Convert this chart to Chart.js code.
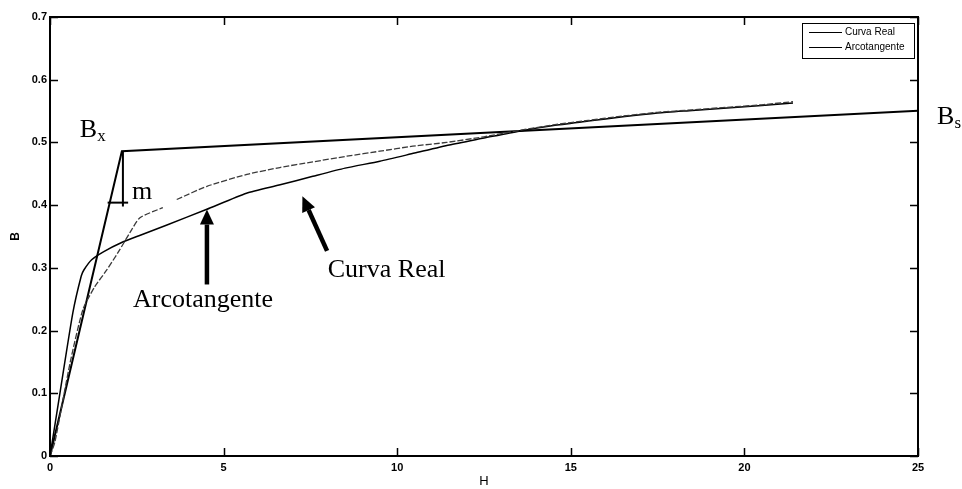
<!DOCTYPE html>
<html><head><meta charset="utf-8">
<script src="https://cdn.jsdelivr.net/npm/chart.js@4.4.0/dist/chart.umd.min.js"></script>
<style>html,body{margin:0;padding:0;background:#fff}#wrap{width:962px;height:489px;position:relative}</style>
</head><body><div id="wrap"><canvas id="c" width="962" height="489"></canvas></div>
<script>
// ---- data ----
const xTicks = [0, 5, 10, 15, 20, 25];
const yTicks = [0, 0.1, 0.2, 0.3, 0.4, 0.5, 0.6, 0.7];
const seriesNames = ['Curva Real', 'Arcotangente'];
const axisTitles = { x: 'H', y: 'B' };

// null = small gap visible in the measured curve
const realH = [0, 0.14, 0.58, 0.95, 1.29, 1.64, 2.01, 2.3, 2.59, 3.25, 3.45, 3.65, 4.52, 5.67, 6.62, 7.57, 8.55, 9.5, 10.45, 11.42, 12.5, 13.5, 14.5, 15.5, 16.5, 17.5, 18.5, 19.5, 20.5, 21.4];
const realB = [0, 0.022, 0.149, 0.234, 0.270, 0.297, 0.329, 0.356, 0.380, 0.396, null, 0.409, 0.430, 0.449, 0.460, 0.469, 0.478, 0.486, 0.494, 0.500, 0.509, 0.519, 0.528, 0.535, 0.542, 0.548, 0.552, 0.556, 0.560, 0.565];

const arcH = [0, 0.3, 0.66, 0.9, 0.98, 1.2, 1.55, 2.05, 2.6, 3.35, 4.5, 5.66, 6.6, 7.57, 8.5, 9.5, 10.5, 11.5, 12.5, 13.5, 14.5, 15.5, 16.5, 17.5, 18.5, 19.5, 20.5, 21.4];
const arcB = [0, 0.105, 0.229, 0.287, 0.297, 0.313, 0.326, 0.340, 0.352, 0.368, 0.393, 0.419, 0.432, 0.446, 0.459, 0.470, 0.483, 0.496, 0.507, 0.518, 0.527, 0.534, 0.541, 0.547, 0.551, 0.555, 0.559, 0.563];

const satH = [0, 2.07, 25];
const satB = [0, 0.486, 0.5505];
const mVertH = [2.1, 2.1];
const mVertB = [0.486, 0.398];
const mHorH = [1.66, 2.25];
const mHorB = [0.404, 0.404];

// text annotations (data coordinates)
const noteTexts = [
  { text: 'B', sub: 'x', h: 0.86, b: 0.508 },
  { text: 'B', sub: 's', h: 25.55, b: 0.529 },
  { text: 'm', sub: '', h: 2.36, b: 0.409 },
  { text: 'Arcotangente', sub: '', h: 2.39, b: 0.237 },
  { text: 'Curva Real', sub: '', h: 8.0, b: 0.285 }
];
const noteArrows = [
  { h0: 4.52, b0: 0.2735, h1: 4.52, b1: 0.393 },
  { h0: 7.98, b0: 0.327, h1: 7.27, b1: 0.414 }
];

const pts = (hs, bs) => hs.map((h, i) => ({ x: h, y: bs[i] }));

const tickFont = { family: "'Liberation Sans Narrow','Liberation Sans',Arial,sans-serif", size: 11, weight: 'bold' };

const boxPlugin = {
  id: 'boxPlugin',
  afterDraw(chart) {
    const ctx = chart.ctx, ca = chart.chartArea;
    const xs = chart.scales.x, ys = chart.scales.y;
    ctx.save();
    ctx.strokeStyle = '#000';
    ctx.lineWidth = 1.5;
    const tl = 8;
    ctx.beginPath();
    xTicks.forEach(v => {
      const px = Math.round(xs.getPixelForValue(v)) + 0.5;
      ctx.moveTo(px, ca.bottom); ctx.lineTo(px, ca.bottom - tl);
      ctx.moveTo(px, ca.top); ctx.lineTo(px, ca.top + tl);
    });
    yTicks.forEach(v => {
      const py = Math.round(ys.getPixelForValue(v)) + 0.5;
      ctx.moveTo(ca.left, py); ctx.lineTo(ca.left + tl, py);
      ctx.moveTo(ca.right, py); ctx.lineTo(ca.right - tl, py);
    });
    ctx.stroke();
    ctx.lineWidth = 2;
    ctx.strokeRect(ca.left, ca.top, ca.right - ca.left, ca.bottom - ca.top);

    // legend
    const bx = ca.right - 116, by = ca.top + 6, bw = 112, bh = 35;
    ctx.fillStyle = '#fff';
    ctx.fillRect(bx, by, bw, bh);
    ctx.lineWidth = 1;
    ctx.strokeRect(bx + 0.5, by + 0.5, bw, bh);
    ctx.font = "10px 'Liberation Sans', Arial, sans-serif";
    ctx.textBaseline = 'middle';
    ctx.fillStyle = '#000';
    seriesNames.forEach((name, i) => {
      const ly = by + 9.5 + i * 15;
      ctx.beginPath();
      ctx.moveTo(bx + 7, ly); ctx.lineTo(bx + 40, ly);
      ctx.stroke();
      ctx.fillText(name, bx + 43, ly);
    });
    ctx.restore();
  },
  afterDatasetsDraw(chart) {
    const ctx = chart.ctx;
    const xs = chart.scales.x, ys = chart.scales.y;
    ctx.save();
    ctx.fillStyle = '#000';
    ctx.strokeStyle = '#000';
    noteArrows.forEach(a => {
      const x0 = xs.getPixelForValue(a.h0), y0 = ys.getPixelForValue(a.b0);
      const x1 = xs.getPixelForValue(a.h1), y1 = ys.getPixelForValue(a.b1);
      const ang = Math.atan2(y1 - y0, x1 - x0);
      const hl = 15, hw = 7;
      const bxp = x1 - hl * Math.cos(ang), byp = y1 - hl * Math.sin(ang);
      ctx.lineWidth = 4.5;
      ctx.beginPath(); ctx.moveTo(x0, y0); ctx.lineTo(bxp, byp); ctx.stroke();
      ctx.beginPath();
      ctx.moveTo(x1, y1);
      ctx.lineTo(bxp + hw * Math.sin(ang), byp - hw * Math.cos(ang));
      ctx.lineTo(bxp - hw * Math.sin(ang), byp + hw * Math.cos(ang));
      ctx.closePath(); ctx.fill();
    });
    ctx.textBaseline = 'alphabetic';
    noteTexts.forEach(t => {
      const x = xs.getPixelForValue(t.h), y = ys.getPixelForValue(t.b);
      ctx.font = "26px 'Liberation Serif', 'Times New Roman', serif";
      ctx.fillText(t.text, x, y);
      if (t.sub) {
        const w = ctx.measureText(t.text).width;
        ctx.font = "17px 'Liberation Serif', 'Times New Roman', serif";
        ctx.fillText(t.sub, x + w, y + 4);
      }
    });
    ctx.restore();
  }
};

new Chart(document.getElementById('c'), {
  type: 'scatter',
  data: {
    datasets: [
      { label: seriesNames[0], data: pts(realH, realB), showLine: true, spanGaps: false, borderColor: '#3a3a3a', borderWidth: 1.3, borderDash: [6, 2], pointRadius: 0, tension: 0.2, fill: false },
      { label: seriesNames[1], data: pts(arcH, arcB), showLine: true, borderColor: '#000', borderWidth: 1.5, pointRadius: 0, tension: 0.2, fill: false },
      { label: '', data: pts(satH, satB), showLine: true, borderColor: '#000', borderWidth: 2, pointRadius: 0, fill: false },
      { label: '', data: pts(mVertH, mVertB), showLine: true, borderColor: '#000', borderWidth: 2, pointRadius: 0, fill: false },
      { label: '', data: pts(mHorH, mHorB), showLine: true, borderColor: '#000', borderWidth: 2, pointRadius: 0, fill: false }
    ]
  },
  options: {
    responsive: false,
    animation: false,
    devicePixelRatio: 1,
    layout: { padding: { top: 17, right: 44, left: 0, bottom: 0 } },
    plugins: { legend: { display: false }, tooltip: { enabled: false } },
    scales: {
      x: {
        type: 'linear', min: 0, max: 25,
        afterBuildTicks: s => { s.ticks = xTicks.map(v => ({ value: v })); },
        afterFit: s => { s.height = 33; },
        grid: { display: false, drawTicks: false },
        border: { display: false },
        ticks: { font: tickFont, color: '#000', padding: 5, maxRotation: 0, autoSkip: false, callback: v => String(v) },
        title: { display: true, text: axisTitles.x, color: '#000', font: { family: "'Liberation Sans',Arial,sans-serif", size: 13 }, padding: 0 }
      },
      y: {
        type: 'linear', min: 0, max: 0.7,
        afterBuildTicks: s => { s.ticks = yTicks.map(v => ({ value: v })); },
        afterFit: s => { s.width = 50; },
        grid: { display: false, drawTicks: false },
        border: { display: false },
        ticks: { font: tickFont, color: '#000', padding: 3, autoSkip: false, callback: v => (Math.round(v * 10) / 10).toString() },
        title: { display: true, text: axisTitles.y, color: '#000', font: { family: "'Liberation Sans',Arial,sans-serif", size: 12, weight: 'bold' }, padding: { top: 8, bottom: 0 } }
      }
    }
  },
  plugins: [boxPlugin]
});
</script></body></html>
